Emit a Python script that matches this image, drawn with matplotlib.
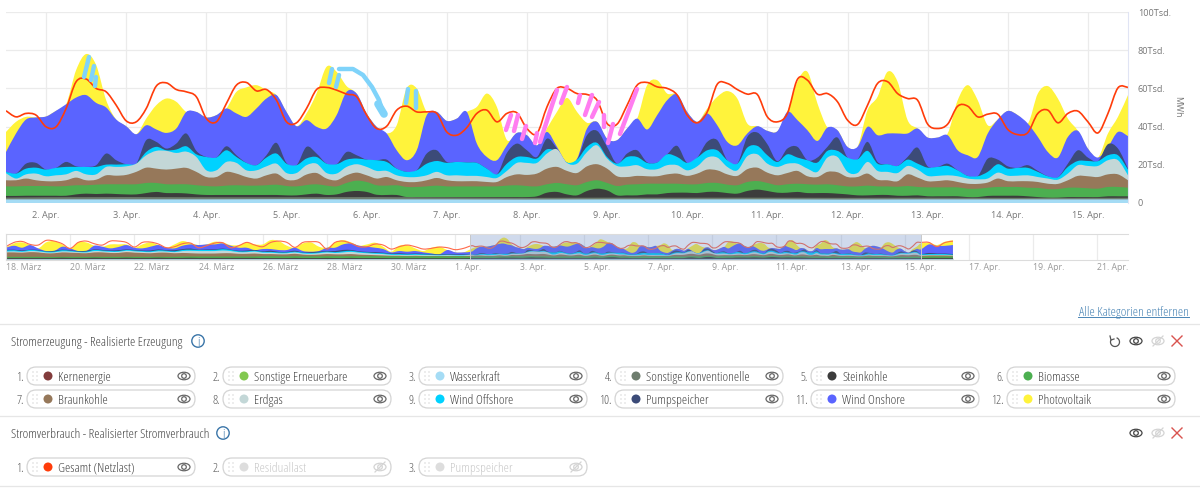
import numpy as np
import matplotlib
matplotlib.use("Agg")
import matplotlib.pyplot as plt
from matplotlib.patches import Circle, Ellipse, FancyBboxPatch, Arc, PathPatch
from matplotlib.path import Path

# ----- x positions are days of April (0 = 31. March)
DETAIL_START = 1.5
DETAIL_STEP = 0.125   # 3 hours
HEAD_START = -13
HEAD_STEP = 0.25      # 6 hours

# ----- main chart, cumulative top of each area in Tsd. MWh
pv_top = [37.2,42.5,45.1,44.8,45.3,48.3,51.7,69.6,78,72.2,53.8,43.7,40.2,36,44.2,51.2,54.7,53,47.7,47.7,44.8,46,49.5,58.2,60.5,61.7,59.1,56.5,47.7,40.2,46.9,57.3,71.3,68.7,61.2,57.3,46.9,39.9,36.4,40.7,
          60,60,47.7,47.7,43,44.2,47.7,50.3,57.3,50.3,33,36.7,35.5,30.2,39,47.7,55,47.7,42,42.5,33.7,32.9,39,44.2,61.7,64.3,57.3,56.8,47.7,42.5,49.5,55.6,58.6,54.7,41.6,40.2,37.8,37.6,47.7,63.5,
          68.7,52.1,39.5,38.1,29.4,29.4,48.6,55.6,68.7,63.5,43.4,39,34.3,34.3,36.4,53.8,61.7,53.8,40.7,43.7,48.2,46,41.6,57.3,61.2,54.7,44.2,37.8,28.5,23.8,36.4,45.1,56.5]
onshore_top = [26.7,36.4,43.7,44.8,45.3,48.3,51.7,55.2,56.5,52.4,50,43.7,40.2,36,40.7,38.5,36.7,39,47.7,47.7,44.8,46,49.5,46.9,45.1,49.5,54.7,56.5,47.7,40.2,43.4,39.9,39,46,58.2,57.3,46.9,39.9,36.4,27.6,
               22.4,27.6,46,47.7,43,44.2,47.7,31.1,24.1,22.4,30.2,36.7,35.5,30.2,37.2,29.4,21,23.2,39,42.5,33.7,32.9,39,44.2,38.5,46,53.8,56.8,47.7,42.5,46.9,40.7,32,30.2,36.4,40.2,37.8,37.6,47.7,43.4,
               38.1,32.5,39.5,38.1,29.4,29.4,39.9,35.5,36.4,36.4,36.4,39,34.3,34.3,35.5,27.6,25,24.1,36.4,43.7,48.2,46,41.6,34.6,26.7,23.8,34.6,37.8,28.5,23.8,29.4,37.2,35]
pumped_top = [16.3,15.4,20.6,21,17.5,18.4,21.5,19.2,18.9,19.8,25.9,22.4,20.3,20.6,32.9,32,28.5,31.1,36.4,27.3,24.1,23.8,29.7,25,21,19.8,25,31.5,21,19.8,29.4,25.9,20.6,20.3,26.7,25,22.7,22.4,22.7,18,
              16.3,17.1,25.9,27.6,21.5,21.5,21.2,21,18,15,26.2,31.1,27.6,24.1,33.7,28.5,21.2,22.7,35.5,37.8,29.4,20.6,25.9,27.6,21.3,21.2,25.5,29.9,21,23.8,32,32.9,22.4,20.6,34.6,36.9,30.8,21.9,28.5,29.4,
              22.4,23.8,29.4,34.3,23.8,22.9,32,21.5,20.3,19.4,24.1,29,19.2,18.9,20.6,17.1,14.2,14,23.2,22.7,19.2,18.4,19.8,16.8,14,13.5,20.6,27.6,23.8,21.9,30.8,28.5,18]
offshore_top = [16.3,15.4,18,18.5,17.5,18.4,18.9,18.9,18.9,18.9,20.1,20.1,20.3,20.6,26.7,29.4,27.6,28,29.7,25.5,24.1,23.8,27.6,24.1,21,19.8,23.8,25.9,20.6,19.8,23.3,24.1,20.6,20.3,22.7,23.3,22.7,22.4,21.5,18,
                16.3,17.1,20.6,22,21,21.5,21.2,21,18,15,20.6,24.1,24.1,23.3,28.1,26.7,21.2,22.7,29.4,31.5,24.1,20.6,24.1,24.1,21,21.2,25.5,24.1,21,23.8,27.6,27.6,22.4,20.6,29,29.9,25,21.5,25.5,23.8,
                22.4,21.2,27.3,27.3,23.8,22.9,27.3,20.6,20.3,19.4,22.7,20.6,18.5,18.9,19.4,17.1,14.2,14,16.3,20.3,18,18.4,18.4,16.3,14,13.5,18.9,22,22,21.9,25,25,17.5]
erdgas_top = [15.6,12.8,15,15.4,14,14.5,15,16.8,15,15,18.9,18.9,19.2,20.6,25,27.3,27.3,26.2,26.9,24.1,17.1,17.1,21.5,21,17.1,17.1,19.2,20.6,15.7,15.7,19.8,20.6,15.7,15.4,18.9,20.3,18.9,16.8,16.8,14.5,
              13.6,13.6,14.5,16.3,14.5,14.5,14.2,14.2,13.6,13.1,16.8,21,21,21,25.9,28.1,21,20.6,26.7,30.2,23.3,19.4,19.2,19.8,17.7,17.7,19.8,19.8,17.1,19.2,23.8,23.8,18.9,17.1,24.5,25.5,20.6,18.9,20.6,20.6,
              18,16.3,23.8,24.1,16.3,15.7,21.5,16.8,16.3,15.7,19.4,17.5,14.2,14.2,14.5,14,12.8,12.4,12.8,15.9,14.3,14.3,14.5,13.6,12.8,12.2,15.4,19.8,19.4,19.4,22.4,22.4,14.5]
braunkohle_top = [11.9,11.9,12.8,11.9,11.4,11.4,11.9,13.3,11.9,12.2,14.5,14.3,14.7,16.3,18.5,18,17.5,18,18.4,16.3,13.6,13.6,16.3,15.4,13.6,12.8,14.5,15.4,12.2,12.2,14.9,15.7,12.8,11.9,14.5,15.9,14.5,12.8,13.6,11.9,
                  11,11,11.9,13.1,11.9,11.4,11.4,11.4,11,11,13.6,15,14.7,15.4,18,18.9,16.8,15.7,19.2,20.3,18,14,13.6,14.2,14,14,15,15.4,14.2,15.4,17.5,17.1,15,14.2,17.7,18.5,15.9,14.5,15.7,16.8,
                  14,13.6,16.3,16.1,13.6,13.6,15.4,12.2,11.9,11.4,15,13.3,11.4,11.5,11.9,11,10.1,10,10.7,12.8,11.4,11.4,11.4,11,10.1,10,11.9,14.2,14,13.6,15,15,11.9]
biomasse_top = [8.7,8.7,8.9,8.9,8.9,8.7,8.9,9.3,9.3,9.6,9.8,9.8,9.8,9.8,10.5,10.5,9.8,9.8,9.8,9.3,8.9,8.7,9.1,9.3,9.1,9.1,9.3,9.6,8.9,8.7,9.4,9.8,9.1,8.7,10.5,11.7,11,9.3,9.1,9.3,
                8.4,8.4,8.7,9.1,8.7,8.7,8.7,8.7,8.7,8.7,9.1,9.3,8.9,8.7,9.8,10.5,9.8,9.3,11,11.9,10.5,8.9,9.6,9.8,10.1,10.1,10.1,10.1,9.8,9.8,10.5,10.5,9.6,9.3,11,11.5,10.5,9.3,9.8,10.1,
                9.8,9.6,9.8,9.3,8.7,8.7,9.1,8.7,8.7,8.5,8.9,8.4,8.2,8.2,8.2,8.2,7.5,7.5,8,8.4,8.4,8.4,8,7.9,7.3,7.3,8,8,7.7,7.5,8.4,8.4,8]
steinkohle_top = [3.7,3.7,3.8,3.8,3.8,3.8,3.8,4.5,4.9,4.7,4.9,4.7,4.5,4.5,5.2,5.8,5.2,5.2,5,4.5,4.2,4.2,4.2,4.2,4.2,4.2,4.2,4.2,4,4,4.5,4.9,4.2,4.5,5.8,6.3,5.8,4.3,4.2,4.2,
                  3.1,3.1,3.1,3.1,3.1,3.1,3.1,3.1,3.1,3.1,3.1,3.1,3.1,3.5,5.4,5.8,4.5,4,6.3,7.5,6.6,4,4,4,4.5,4.5,5.2,5.4,5.4,5.2,5.8,5.8,5.2,4.9,6.3,7,6.3,5.4,5.4,5.8,
                  5.2,5.2,5.2,4.9,4.5,4,4,4.2,4.2,3.8,3.8,4,3.5,3.5,3.5,3.5,3.1,3.1,3.7,3.8,3.8,3.8,3.5,3.1,2.8,2.8,3.1,3.1,3.1,3.1,3.5,3.5,3.5]
netzlast = [48.3,45.1,46.9,46,39.9,39.9,49.5,63.5,64.9,60,58.2,51.2,43,42.5,49.5,61.2,62.9,59.4,58.2,55.6,44.2,42.5,52.1,61.7,63.1,58.7,59.4,53.8,42.5,42,49.5,59.4,60.5,59.1,57,55.6,46,39,40.2,48.6,
            50.7,47.7,47.7,46.9,37.2,35.5,39.5,46.9,48.6,42.5,46.9,47.2,39,36.4,50.3,60,60,57.3,56.8,53.8,41.6,41.3,51.2,61.7,63.1,60.8,60,56.5,46,42,47.7,62.2,62.6,59.4,57,56.8,45.1,42.5,46.9,64.7,
            64.3,57,57.3,53,43.4,41.1,51.2,62.6,63.5,57.3,54.7,53.8,41.3,39,41.3,50.7,50.7,45.1,46.5,46.5,38.5,35.8,36.9,46.9,48.6,42,46.9,48.1,42.5,36.7,46.9,60.3,60.5]

# ----- navigator only: 18. March to 1. April, every 6 hours
head_pv = [41.1,56.9,60.5,50.8,38.7,60.5,65.3,53.2,38.7,60.5,60.5,48.4,44.8,53.2,53.2,53.2,41.1,53.2,60.5,50.8,41.1,53.2,65.3,58,50.8,53.2,63,60.5,50.8,50.8,60.5,53.2,
           53.2,69,65.3,48.4,41.1,56.9,60.5,44.8,41.1,60.5,69,60.5,48.4,53.2,59.3,44.8,26.6,48.4,50.8,38.7,29,41.1,44.8,32.7,24.2,24.2]
head_onshore = [41.1,48.4,41.1,50.8,38.7,29,29,44.8,38.7,29,29,48.4,44.8,38.7,43.6,50.8,41.1,38.7,44.8,50.8,41.1,38.7,48.4,53.2,50.8,53.2,53.2,56.9,48.4,41.1,41.1,32.7,
                36.3,36.3,32.7,32.7,41.1,29,26.6,29,41.1,41.1,53.2,56.9,48.4,44.8,41.1,36.3,24.2,29,26.6,29,24.2,20.6,17,32.7,24.2,24.2]
head_pumped = [33,34,31,34,33,28,30,34,32,29,30,35,33,31,32,35,33,31,31,35,32,32,36,38,34,35,35,38,34,30,31,33,
               28,30,26,26,30,24,25,27,29,29,33,33,28,26,25,23,20,21,19,20,19,18,17,18,17,17]
head_offshore = [31,32,29,33,31,27,27,32,30,27,27,33,31,29,29,33,31,29,28,32,30,28,33,34,33,33,33,36,33,28,28,30,
                 26,26,24,24,27,23,22,24,27,25,28,30,26,24,22,21,18,18,17,18,17,16,15,16,15,15]
head_erdgas = [27,28,26,29,28,24,24,28,27,25,24,29,28,26,26,30,28,26,25,28,27,25,29,30,29,29,29,31,29,25,25,27,
               23,23,21,21,24,20,19,21,24,22,24,26,23,21,19,18,15,15,14,15,14,14,13,14,13,13]
head_braunkohle = [24,24,23,25,24,21,21,24,23,22,21,24,24,22,22,25,23,22,21,23,23,21,22,21,20,20,20,21,21,19,19,20,
                   18,18,17,17,19,16,15,16,18,17,17,18,16,15,14,13,12,12,11,12,11,11,11,11,11,11]
head_biomasse = [8,8,8,8,8,7.5,7.5,8,8,8,8,8,8,8,8,8,8,8,8,8,8,8,9,9,9,9,9,9,9,9,9,9,
                 10,10,9.5,9.5,10,9.5,9.5,9.5,10,10,10,10,10,10,10,9.5,9.5,9.5,9.5,9.5,9.5,9.5,9.5,9.5,9.5,9.5]
head_steinkohle = [4,4,4,4,4,4,4,4.5,4,4,4,4.5,4,4,4,4.5,4,4,4,4.5,4,4,4,4.5,4,4,4,4,4,4,4,4,
                   3.5,3.5,3.5,3.5,4,3.5,3.5,3.5,4,3.5,3.5,4,3.5,3.5,3.5,3.5,3,3,3,3,3,3,3,3,3,3]
head_netzlast = [44.8,60.5,64,53.2,50.8,67.8,65.3,55.7,38.7,60.5,65.3,55.7,50.8,65.3,65.3,60.5,43.6,60.5,61.7,54.5,41.1,44.8,55.7,58,41.1,48.4,58,59.3,41.1,48.4,60.5,50.8,
                 44.8,60.5,65.3,60.5,42.4,60.5,63,60.5,36.3,60.5,65.3,56.9,44.8,44.8,54.5,50.8,36.3,44.8,50.8,44.8,36.3,38.7,43.6,41.1,33.9,38.7]

# ----- navigator only: 15.75 to 16.5 April
tail_days = [15.75, 16.0, 16.25, 16.5]
tail_pv = [60,51,63,68]
tail_onshore = [53,48,48,51]
tail_pumped = [22,20,20,18]
tail_offshore = [18,18,18,16]
tail_erdgas = [15,15,15,14]
tail_braunkohle = [13,13,13,12]
tail_biomasse = [9,9,9,9]
tail_steinkohle = [4,4,4,4]
tail_netzlast = [60.5,45,60,65]

# ----- thin bottom layers, one reading per day from 18. March
daily_days = [-13,-12,-11,-10,-9,-8,-7,-6,-5,-4,-3,-2,-1,0,1,2,3,4,5,6,7,8,9,10,11,12,13,14,15,16,16.5]
konv_top = [2.9,2.9,2.8,2.9,2.8,2.8,2.9,2.8,2.8,2.7,2.8,2.8,2.7,2.7,2.7,3.0,3.1,3.0,3.0,3.1,2.9,2.7,2.8,2.8,2.8,2.7,2.8,2.7,2.7,2.8,2.8]
wasser_top = [1.9,1.9,1.9,1.8,1.9,1.9,1.8,1.8,1.9,1.9,1.8,1.8,1.9,1.9,1.9,1.9,1.9,1.9,2.0,1.9,1.9,1.8,1.9,1.9,1.9,1.8,1.9,1.9,1.9,1.9,1.9]

# ----- axes labels
main_ticks = [2,3,4,5,6,7,8,9,10,11,12,13,14,15]
main_labels = ["2. Apr.","3. Apr.","4. Apr.","5. Apr.","6. Apr.","7. Apr.","8. Apr.","9. Apr.","10. Apr.","11. Apr.","12. Apr.","13. Apr.","14. Apr.","15. Apr."]
y_ticks = [0,20,40,60,80,100]
y_labels = ["0","20Tsd.","40Tsd.","60Tsd.","80Tsd.","100Tsd."]
nav_ticks = [-13,-11,-9,-7,-5,-3,-1,1,3,5,7,9,11,13,15,17,19,21]
nav_labels = ["18. März","20. März","22. März","24. März","26. März","28. März","30. März","1. Apr.","3. Apr.","5. Apr.","7. Apr.","9. Apr.","11. Apr.","13. Apr.","15. Apr.","17. Apr.","19. Apr.","21. Apr."]

# ----- legend entries
erzeugung = ["Kernenergie","Sonstige Erneuerbare","Wasserkraft","Sonstige Konventionelle","Steinkohle","Biomasse",
             "Braunkohle","Erdgas","Wind Offshore","Pumpspeicher","Wind Onshore","Photovoltaik"]
erzeugung_colors = ["#823C3C","#82C850","#A5DCF5","#6E7D6E","#3C3C3C","#4CAF50",
                    "#96785A","#C3D7D7","#00D2FF","#3C4B78","#5A64FF","#FFF33B"]
verbrauch = ["Gesamt (Netzlast)","Residuallast","Pumpspeicher"]

# ----- hand drawn marks on the screenshot, figure pixels
blue_strokes = [[(89,57),(84,77)],[(94,66),(91,80)],[(96,77),(95,86)],[(332,69),(329,83)],[(339,75),(336,87)],
                [(408,89),(406,103)],[(416,91),(416,108)],
                [(339,69),(353,69),(363,75),(372,87),(379,100),(383,113)]]
pink_strokes = [[(511,115),(506,130)],[(518,115),(514,131)],[(526,126),(522,139)],[(537,133),(535,143)],
                [(557,90),(540,142)],[(567,87),(561,103)],[(580,95),(578,103)],[(592,95),(585,115)],
                [(599,102),(592,117)],[(604,115),(604,127)],[(613,124),(608,143)],[(637,89),(620,134)]]

AXIS_FONT = "Open Sans"
GRID = "#ebebeb"
LABEL = "#777777"


def spline_path(x, y, closed_to=None):
    # smooth curve through the readings with bezier handles, like the spline series of the site
    x = np.asarray(x, float)
    y = np.asarray(y, float)
    verts = [(x[0], y[0])]
    codes = [Path.MOVETO]
    for i in range(len(x)-1):
        a = max(i-1, 0)
        b = min(i+2, len(x)-1)
        verts.append((x[i] + (x[i+1]-x[a])/6, y[i] + (y[i+1]-y[a])/6))
        verts.append((x[i+1] - (x[b]-x[i])/6, y[i+1] - (y[b]-y[i])/6))
        verts.append((x[i+1], y[i+1]))
        codes += [Path.CURVE4]*3
    if closed_to is not None:
        verts += [(x[-1], closed_to), (x[0], closed_to), (x[0], y[0])]
        codes += [Path.LINETO, Path.LINETO, Path.CLOSEPOLY]
    return Path(verts, codes)


def draw_areas(ax, x, tops):
    # painted from the largest down, every area starts at zero
    for color, top in tops:
        ax.add_patch(PathPatch(spline_path(x, top, closed_to=0), fc=color, ec="none", lw=0))


def draw_bottom_layers(ax):
    ax.fill_between(daily_days, 0, konv_top, color="#6E7D6E", lw=0)
    ax.fill_between(daily_days, 0, wasser_top, color="#A5DCF5", lw=0)


def draw_main(fig):
    ax = fig.add_axes([6/1200, (499-203)/499, 1122/1200, 191/499])
    x = DETAIL_START + DETAIL_STEP*np.arange(len(netzlast))
    draw_areas(ax, x, [("#FFF33B", pv_top), ("#5A64FF", onshore_top), ("#3C4B78", pumped_top),
                       ("#00D2FF", offshore_top), ("#C3D7D7", erdgas_top), ("#96785A", braunkohle_top),
                       ("#4CAF50", biomasse_top), ("#3C3C3C", steinkohle_top)])
    draw_bottom_layers(ax)
    ax.add_patch(PathPatch(spline_path(x, netzlast), fc="none", ec="#FF3C0A", lw=1.2))
    ax.set_xlim(DETAIL_START, 15.5)
    ax.set_ylim(0, 100)
    ax.set_xticks(main_ticks, main_labels)
    ax.set_yticks(y_ticks, y_labels)
    ax.yaxis.tick_right()
    ax.grid(color=GRID, lw=0.9)
    ax.set_axisbelow(True)
    ax.tick_params(length=0, labelsize=6.6, labelcolor=LABEL, labelfontfamily=AXIS_FONT)
    ax.tick_params(axis="x", pad=6)
    ax.tick_params(axis="y", pad=7)
    for side in ["top", "left", "bottom"]:
        ax.spines[side].set_visible(False)
    ax.spines["right"].set_color("#e0e4f4")
    return ax


def draw_navigator(fig):
    ax = fig.add_axes([6/1200, (499-260.3)/499, 1122/1200, 26/499])
    x_head = HEAD_START + HEAD_STEP*np.arange(len(head_netzlast))
    x_detail = DETAIL_START + DETAIL_STEP*np.arange(len(netzlast))
    x = np.concatenate([x_head, x_detail, tail_days])
    layers = [("#FFF33B", head_pv, pv_top, tail_pv), ("#5A64FF", head_onshore, onshore_top, tail_onshore),
              ("#3C4B78", head_pumped, pumped_top, tail_pumped), ("#00D2FF", head_offshore, offshore_top, tail_offshore),
              ("#C3D7D7", head_erdgas, erdgas_top, tail_erdgas), ("#96785A", head_braunkohle, braunkohle_top, tail_braunkohle),
              ("#4CAF50", head_biomasse, biomasse_top, tail_biomasse), ("#3C3C3C", head_steinkohle, steinkohle_top, tail_steinkohle)]
    draw_areas(ax, x, [(c, list(h)+list(d)+list(t)) for c, h, d, t in layers])
    draw_bottom_layers(ax)
    ax.add_patch(PathPatch(spline_path(x, list(head_netzlast)+list(netzlast)+list(tail_netzlast)), fc="none", ec="#FF6A4A", lw=0.8))
    ax.set_xlim(-13.0, -13.0 + 1122/32.1)
    ax.set_ylim(-4.7, 90)
    ax.set_xticks(nav_ticks, nav_labels, ha="left")
    ax.set_yticks([])
    ax.grid(axis="x", color=GRID, lw=0.9)
    ax.set_axisbelow(True)
    ax.tick_params(length=0, labelsize=6.3, labelcolor="#999999", labelfontfamily=AXIS_FONT, pad=2)
    ax.axvspan(1.47, 15.5, color=(0.4, 0.52, 0.76, 0.3), lw=0)
    ax.axvline(1.47, color="#c8c8c8", lw=0.7)
    ax.axvline(15.5, color="#c8c8c8", lw=0.7)
    for side in ["top", "left", "bottom"]:
        ax.spines[side].set_color("#dcdcdc")
    ax.spines["right"].set_visible(False)
    return ax


def ui_text(ui, x, y, s, size=9.6, color="#444444", ha="left", **kw):
    ui.text(x, y, s, ha=ha, va="center_baseline", fontsize=size, color=color, family="Open Sans", stretch="condensed", **kw)


def draw_eye(ui, x, y, color, crossed=False):
    ui.add_patch(Ellipse((x, y), 12, 7.5, fill=False, ec=color, lw=0.9))
    ui.add_patch(Circle((x, y), 2.3, fill=False, ec=color, lw=0.9))
    if crossed:
        ui.plot([x-5, x+5], [y+5, y-5], color=color, lw=0.9)


def draw_chip(ui, x, y, number, name, color, active=True):
    w, h = 168, 18
    ui.add_patch(FancyBboxPatch((x, y-h/2), w, h, boxstyle="round,pad=0,rounding_size=9",
                                fc="white", ec="#d4d4d4", lw=0.9))
    ui_text(ui, x-3, y, number, size=9, color="#555555", ha="right")
    for dx in [6, 10]:
        for dy in [-4, 0, 4]:
            ui.add_patch(Circle((x+dx, y+dy), 0.65, color="#cccccc", lw=0))
    ui.add_patch(Circle((x+21, y), 4.5, color=color if active else "#dddddd", lw=0))
    ui_text(ui, x+31, y, name, color="#444444" if active else "#c8c8c8")
    draw_eye(ui, x+157, y, "#666666" if active else "#d4d4d4", crossed=not active)


def draw_info(ui, x, y):
    ui.add_patch(Circle((x, y), 6.2, fill=False, ec="#3a75a8", lw=1))
    ui_text(ui, x, y, "i", size=9, color="#3a75a8", ha="center")


def draw_close(ui, x, y):
    ui.plot([x-5, x+5], [y-5, y+5], color="#d9534f", lw=1)
    ui.plot([x-5, x+5], [y+5, y-5], color="#d9534f", lw=1)


def draw_ui(fig):
    ui = fig.add_axes([0, 0, 1, 1], facecolor="none")
    ui.set_xlim(0, 1200)
    ui.set_ylim(499, 0)
    ui.axis("off")

    # marker scribbles
    for stroke in blue_strokes:
        ui.plot(*zip(*stroke), color="#7FD3FA", lw=3.2, solid_capstyle="round", solid_joinstyle="round")
    ui.plot([378, 384], [104, 114], color="#7FD3FA", lw=5.5, solid_capstyle="round")
    for stroke in pink_strokes:
        ui.plot(*zip(*stroke), color="#FF7DF0", lw=3.2, solid_capstyle="round")

    ui.text(1178, 107, "MWh", rotation=270, ha="center", va="center", fontsize=6.3, color=LABEL, family=AXIS_FONT)

    ui_text(ui, 1189, 311, "Alle Kategorien entfernen", size=9.6, color="#4a85b5", ha="right")
    ui.plot([1078, 1189], [317, 317], color="#4a85b5", lw=0.7)

    for yy in [324, 416, 486]:
        ui.plot([0, 1200], [yy, yy], color="#e6e6e6", lw=0.9)

    ui_text(ui, 11, 341, "Stromerzeugung - Realisierte Erzeugung", size=9.6)
    draw_info(ui, 198, 341)
    ui_text(ui, 11, 433, "Stromverbrauch - Realisierter Stromverbrauch", size=9.6)
    draw_info(ui, 223, 433)

    # undo arrow, eye, crossed eye, close
    ui.add_patch(Arc((1115, 342), 9, 9, theta1=-70, theta2=210, ec="#555555", lw=0.9))
    ui.plot([1110, 1111, 1114], [336, 340, 339], color="#555555", lw=0.9)
    for yy in [341, 433]:
        draw_eye(ui, 1136, yy, "#444444")
        draw_eye(ui, 1158, yy, "#d4d4d4", crossed=True)
        draw_close(ui, 1177, yy)

    chip_x = [27, 223, 419, 615, 811, 1007]
    for i, name in enumerate(erzeugung):
        row = 376 if i < 6 else 399
        draw_chip(ui, chip_x[i % 6], row, f"{i+1}.", name, erzeugung_colors[i])
    for i, name in enumerate(verbrauch):
        draw_chip(ui, chip_x[i], 467, f"{i+1}.", name, "#FF3C0A", active=(i == 0))


def main():
    fig = plt.figure(figsize=(12, 4.99), dpi=100)
    draw_main(fig)
    draw_navigator(fig)
    draw_ui(fig)
    fig.savefig("out.png", dpi=100)


if __name__ == "__main__":
    main()
